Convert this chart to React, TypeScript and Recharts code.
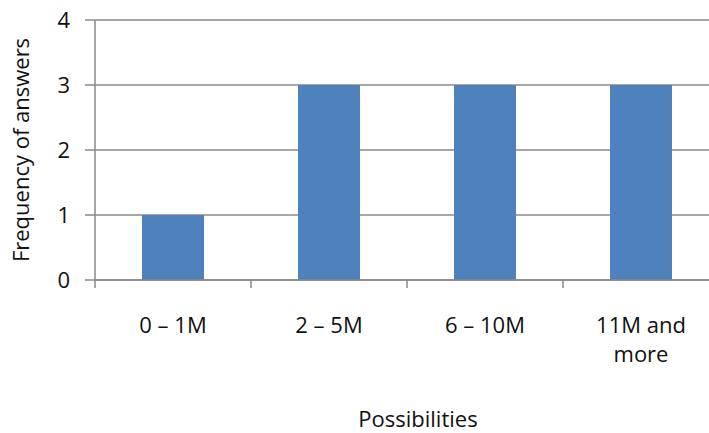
import React from "react";
import { BarChart, Bar, XAxis, YAxis, CartesianGrid, Label } from "recharts";

const categories = ["0 – 1M", "2 – 5M", "6 – 10M", "11M and more"];
const frequencies = [1, 3, 3, 3];
const yTicks = [0, 1, 2, 3, 4];
const tickLines: Record<string, string[]> = {
  "11M and more": ["11M and", "more"],
};

const data = categories.map((c, i) => ({ name: c, value: frequencies[i] }));

const FONT = "'Open Sans', 'Noto Sans', sans-serif";
const GRID = "#8a8a8a";
const BAR = "#4F81BD";

const CategoryTick = (props: any) => {
  const { x, y, payload, index } = props;
  const half = payload && typeof payload.offset === "number" ? payload.offset : 78;
  const lines = tickLines[payload.value] || [payload.value];
  return (
    <g>
      <line x1={x - half} x2={x - half} y1={y} y2={y + 8} stroke={GRID} strokeWidth={1.5} />
      {index === categories.length - 1 && (
        <line x1={x + half} x2={x + half} y1={y} y2={y + 8} stroke={GRID} strokeWidth={1.5} />
      )}
      <text x={x} y={y} textAnchor="middle" fontFamily={FONT} fontSize={22} fill="#111">
        {lines.map((l: string, i: number) => (
          <tspan key={i} x={x} dy={i === 0 ? 53 : 29}>
            {l}
          </tspan>
        ))}
      </text>
    </g>
  );
};

export default function App() {
  return (
    <div
      style={{
        position: "absolute",
        left: 0,
        top: 0,
        width: 709,
        height: 433,
        overflow: "hidden",
        background: "#fff",
      }}
    >
      <BarChart
        width={730}
        height={433}
        data={data}
        margin={{ top: 20, right: 11, bottom: 0, left: 0 }}
      >
        <CartesianGrid vertical={false} stroke={GRID} strokeWidth={1.5} />
        <XAxis
          dataKey="name"
          type="category"
          height={153}
          tickLine={false}
          tickSize={0}
          tickMargin={0}
          axisLine={{ stroke: GRID, strokeWidth: 1.5 }}
          tick={<CategoryTick />}
          interval={0}
        >
          <Label
            content={(p: any) => {
              const vb = p.viewBox || {};
              const cx = (vb.x ?? 95) + (vb.width ?? 624) / 2 + 11;
              return (
                <text x={cx} y={427} textAnchor="middle" fontFamily={FONT} fontSize={22} fill="#111">
                  Possibilities
                </text>
              );
            }}
          />
        </XAxis>
        <YAxis
          type="number"
          domain={[0, 4]}
          ticks={yTicks}
          width={95}
          tickSize={10}
          tickMargin={15}
          interval={0}
          axisLine={{ stroke: GRID, strokeWidth: 1.5 }}
          tickLine={{ stroke: GRID, strokeWidth: 1.5 }}
          tick={{ fontFamily: FONT, fontSize: 22, fill: "#111" }}
        >
          <Label
            content={(p: any) => {
              const vb = p.viewBox || {};
              const cy = (vb.y ?? 20) + (vb.height ?? 260) / 2;
              return (
                <text
                  x={29}
                  y={cy}
                  transform={`rotate(-90, 29, ${cy})`}
                  textAnchor="middle"
                  fontFamily={FONT}
                  fontSize={22}
                  fill="#111"
                >
                  Frequency of answers
                </text>
              );
            }}
          />
        </YAxis>
        <Bar dataKey="value" fill={BAR} barSize={62} isAnimationActive={false} />
      </BarChart>
    </div>
  );
}
